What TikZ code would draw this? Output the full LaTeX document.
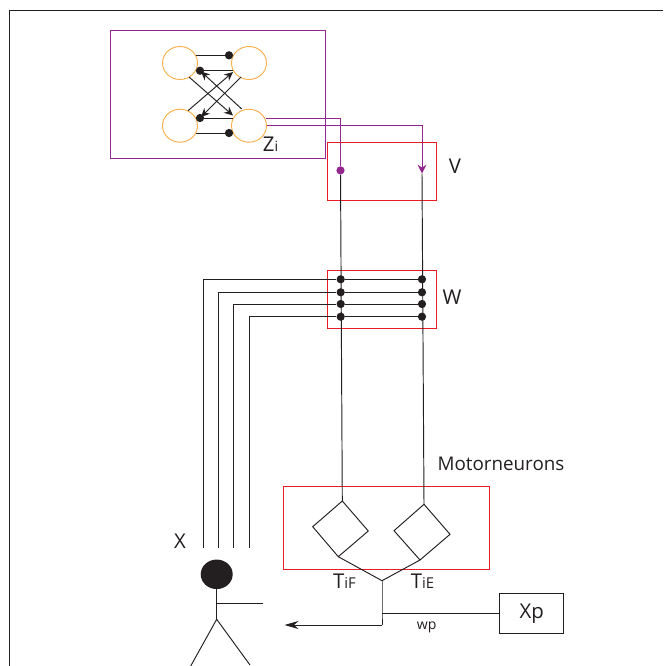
\documentclass[tikz,border=0pt]{standalone}
\usepackage{fontspec}
\setmainfont{Open Sans}
\usepackage{xcolor}
\usepackage{tikz}
\usetikzlibrary{shapes.geometric, arrows.meta, positioning, calc}
\definecolor{netorange}{HTML}{F7B04C}
\definecolor{netpurple}{HTML}{93278F}
\definecolor{boxred}{HTML}{ED1C24}
\definecolor{inkblack}{HTML}{231F20}
\tikzstyle{wire} = [draw=inkblack, line width=0.54pt]
\tikzstyle{tipped} = [wire, -{Stealth[length=5pt,width=4.6pt]}]

\begin{document}
\begin{tikzpicture}[
        x=0.02cm, y=-0.02cm,
        % Define the styles of the pieces
        neuron/.style={draw=netorange, line width=0.54pt, ellipse, minimum width=0.7cm, minimum height=0.66cm, inner sep=0pt},
        syn_dot/.style={circle, fill=inkblack, minimum size=0.165cm, inner sep=0pt},
        purple_dot/.style={syn_dot, fill=netpurple},
        red_box/.style={draw=boxred, line width=0.54pt},
        purple_line/.style={draw=netpurple, line width=0.54pt},
        label_text/.style={text=inkblack, font=\fontsize{11.6}{14}\selectfont, inner sep=0pt},
        small_text/.style={text=inkblack, font=\fontsize{8}{10}\selectfont, inner sep=0pt}
    ]
        \useasboundingbox (0, 0) rectangle (663, 666);

        % --- Outer frame ---
        \coordinate (frame_bl) at (9, 666);
        \coordinate (frame_tl) at (9, 10.5);
        \coordinate (frame_tr) at (663, 10.5);
        \draw[wire] (frame_bl) -- (frame_tl) -- (frame_tr);

        % --- Network box and its four cells ---
        \draw[purple_line] (110, 30.7) rectangle (325, 158);
        \node (cell_tl) [neuron] at (180, 63) {};
        \node (cell_tr) [neuron] at (249, 63) {};
        \node (cell_bl) [neuron] at (180, 125.7) {};
        \node (cell_br) [neuron] at (249, 125.7) {};
        \node[label_text] (zi_label) at (270.5, 144) {Z\fontsize{8}{10}\selectfont i};

        \node (dot_a) [syn_dot] at (229, 55.3) {};
        \node (dot_b) [syn_dot] at (200, 70.7) {};
        \node (dot_c) [syn_dot] at (200, 118) {};
        \node (dot_d) [syn_dot] at (229, 133) {};
        \coordinate (from_a) at (196, 55.3);
        \coordinate (from_b) at (233, 70.7);
        \coordinate (from_c) at (233, 118);
        \coordinate (from_d) at (196, 133);
        \draw[wire] (from_a) -- (dot_a);
        \draw[wire] (from_b) -- (dot_b);
        \draw[wire] (from_c) -- (dot_c);
        \draw[wire] (from_d) -- (dot_d);

        % --- Crossing arrows ---
        \coordinate (cross_a) at (188, 110.7);
        \coordinate (cross_at) at (233, 72);
        \coordinate (cross_b) at (241, 77);
        \coordinate (cross_bt) at (201, 117);
        \coordinate (cross_c) at (189, 77);
        \coordinate (cross_ct) at (233, 115.5);
        \coordinate (cross_d) at (241.7, 109);
        \coordinate (cross_dt) at (201, 71.5);
        \draw[tipped] (cross_a) -- (cross_at);
        \draw[tipped] (cross_b) -- (cross_bt);
        \draw[tipped] (cross_c) -- (cross_ct);
        \draw[tipped] (cross_d) -- (cross_dt);

        % --- Purple lines into V ---
        \node (v_dot_f) [purple_dot] at (340.5, 170.4) {};
        \coordinate (v_tip_e) at (422, 173.5);
        \coordinate (out_f) at (266, 118.3);
        \coordinate (out_e) at (266.5, 125.7);
        \draw[purple_line] (out_f) -| (v_dot_f);
        \draw[purple_line, -{Stealth[length=5pt,width=5pt]}] (out_e) -| (v_tip_e);

        % --- V and W boxes ---
        \draw[red_box] (327.7, 142.3) rectangle (436, 200.3);
        \draw[red_box] (327.7, 270.3) rectangle (436, 328.3);
        \node[label_text] (v_label) at (455, 166) {V};
        \node[label_text] (w_label) at (452, 297) {W};

        % --- Inputs X and their synapses ---
        \foreach \name/\xpos/\ypos in {a/203.7/279.3, b/218.7/292.3, c/233.7/304, d/249/316.7} {
            \coordinate (in_\name) at (\xpos, 548);
            \node (syn_f\name) [syn_dot] at (340.7, \ypos) {};
            \node (syn_e\name) [syn_dot] at (422, \ypos) {};
            \draw[wire] (in_\name) |- (syn_f\name) -- (syn_e\name);
        }
        \node[label_text] (x_label) at (180, 541) {X};

        % --- Motorneurons ---
        \draw[red_box] (283.3, 486.3) rectangle (489.3, 569.3);
        \node[label_text, font=\fontsize{10.7}{13}\selectfont] (motor_label) at (501, 463.5) {Motorneurons};
        \coordinate (flex_n) at (342.3, 501);
        \coordinate (flex_e) at (368.3, 531);
        \coordinate (flex_s) at (338.3, 556.7);
        \coordinate (flex_w) at (312.7, 526.7);
        \coordinate (ext_n) at (424, 504.3);
        \coordinate (ext_e) at (450, 534.3);
        \coordinate (ext_s) at (420, 560);
        \coordinate (ext_w) at (394, 530.7);
        \draw[wire] (flex_n) -- (flex_e) -- (flex_s) -- (flex_w) -- cycle;
        \draw[wire] (ext_n) -- (ext_e) -- (ext_s) -- (ext_w) -- cycle;
        \draw[wire] (v_dot_f) -- (flex_n);
        \draw[wire] (v_tip_e) -- (ext_n);

        % --- Torques and feedback ---
        \coordinate (join) at (382, 580.7);
        \coordinate (branch) at (382, 613.3);
        \coordinate (corner) at (382, 625);
        \coordinate (arrow_end) at (284.5, 625);
        \draw[wire] (flex_s) -- (join) -- (ext_s);
        \draw[wire] (join) -- (branch) -- (corner);
        \draw[wire, -{Stealth[length=8pt,width=4.6pt]}] (corner) -- (arrow_end);
        \node[label_text] (tif_label) at (344.5, 581.7) {T\fontsize{8.5}{10}\selectfont iF};
        \node[label_text] (tie_label) at (422.5, 581.7) {T\fontsize{8.5}{10}\selectfont iE};
        \node (xp_box) [draw=inkblack, line width=0.54pt, minimum width=1.28cm, minimum height=0.8cm, inner sep=0pt, text=inkblack, font=\fontsize{11.6}{14}\selectfont] at (531.8, 613.5) {Xp};
        \draw[wire] (branch) -- (xp_box.west |- branch);
        \node[small_text] (wp_label) at (426.7, 627) {wp};

        % --- Figure at the bottom ---
        \node (head) [ellipse, fill=inkblack, minimum width=0.64cm, minimum height=0.59cm, inner sep=0pt] at (216.7, 574.3) {};
        \coordinate (hip) at (216.7, 619.3);
        \coordinate (shoulder) at (216.7, 603.3);
        \coordinate (hand) at (262.7, 603.3);
        \coordinate (foot_l) at (190.7, 666);
        \coordinate (foot_r) at (250, 665);
        \draw[wire] (head) -- (hip);
        \draw[wire] (shoulder) -- (hand);
        \draw[wire] (foot_l) -- (hip) -- (foot_r);
    \end{tikzpicture}
\end{document}
